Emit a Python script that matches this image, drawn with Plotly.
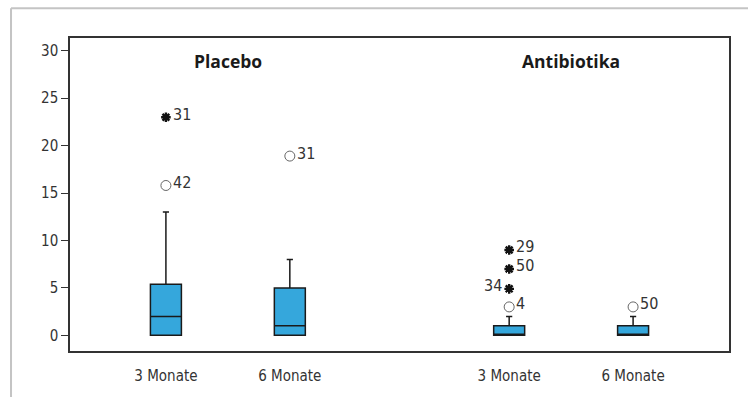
import plotly.graph_objects as go

# ---- data ----
groups = ["Placebo", "Antibiotika"]
categories = ["3 Monate", "6 Monate", "3 Monate", "6 Monate"]
box_group = [0, 0, 1, 1]
q1 = [0, 0, 0, 0]
median = [2, 1, 0, 0]
q3 = [5.4, 5, 1, 1]
lower_fence = [0, 0, 0, 0]
upper_fence = [13, 8, 2, 2]

out_box = [0, 0, 1, 2, 2, 2, 2, 3]
out_value = [23, 15.8, 18.9, 9, 7, 4.9, 3, 3]
out_kind = ["extreme", "mild", "mild", "extreme", "extreme", "extreme", "mild", "mild"]
out_label = ["31", "42", "31", "29", "50", "34", "4", "50"]
out_label_side = ["right", "right", "right", "right", "right", "left", "right", "right"]

y_ticks = [0, 5, 10, 15, 20, 25, 30]

# ---- layout positions ----
x_pos = [0, 1, 2.77, 3.77]
x_range = [-0.774, 4.544]
y_range = [-1.65, 31.35]

BOX_FILL = "#35A7DC"
TXT = "#333333"
NARROW = "DejaVu Sans Condensed, Liberation Sans Narrow, sans-serif"

fig = go.Figure()

fig.add_trace(go.Box(
    x=x_pos, q1=q1, median=median, q3=q3,
    lowerfence=lower_fence, upperfence=upper_fence,
    width=0.25, whiskerwidth=0.2,
    fillcolor=BOX_FILL, line=dict(color="#1a1a1a", width=1.5),
    boxpoints=False, showlegend=False, hoverinfo="skip",
))

mild_x = [x_pos[b] for b, k in zip(out_box, out_kind) if k == "mild"]
mild_y = [v for v, k in zip(out_value, out_kind) if k == "mild"]
ext_x = [x_pos[b] for b, k in zip(out_box, out_kind) if k == "extreme"]
ext_y = [v for v, k in zip(out_value, out_kind) if k == "extreme"]

fig.add_trace(go.Scatter(
    x=mild_x, y=mild_y, mode="markers",
    marker=dict(symbol="circle-open", size=10, color="#666666", line=dict(width=1)),
    showlegend=False, hoverinfo="skip",
))
fig.add_trace(go.Scatter(
    x=ext_x, y=ext_y, mode="markers",
    marker=dict(symbol="asterisk-open", size=8, color="#111111", line=dict(width=2.4, color="#111111")),
    showlegend=False, hoverinfo="skip",
))

for b, v, lab, side in zip(out_box, out_value, out_label, out_label_side):
    fig.add_annotation(
        x=x_pos[b], y=v, text=lab, showarrow=False,
        xanchor="left" if side == "right" else "right",
        xshift=5 if side == "right" else -5, yshift=3,
        font=dict(family=NARROW, size=16, color=TXT),
    )

for gi, g in enumerate(groups):
    xs = [x_pos[i] for i in range(len(x_pos)) if box_group[i] == gi]
    fig.add_annotation(
        x=sum(xs) / len(xs), y=1, yref="paper", yshift=-23, text="<b>" + g + "</b>",
        showarrow=False, xanchor="center", yanchor="middle",
        font=dict(family="Open Sans, sans-serif", size=17.5, color="#1a1a1a"),
    )

# outer light frame (top and left)
fig.add_shape(type="line", xref="paper", yref="paper", x0=-0.0895, x1=1.04, y0=1.095, y1=1.095,
              line=dict(color="#c4c4c4", width=2))
fig.add_shape(type="line", xref="paper", yref="paper", x0=-0.0895, x1=-0.0895, y0=1.095, y1=-0.2,
              line=dict(color="#c4c4c4", width=2))

fig.update_layout(
    width=748, height=397,
    margin=dict(l=70, r=19, t=38, b=43.5),
    paper_bgcolor="white", plot_bgcolor="white",
    xaxis=dict(range=x_range, tickmode="array", tickvals=x_pos, ticktext=categories,
               showgrid=False, zeroline=False, showline=True, mirror=True,
               linecolor="#333333", linewidth=1.5, ticks="", ticklabelstandoff=10,
               tickfont=dict(family=NARROW, size=15, color=TXT)),
    yaxis=dict(range=y_range, tickmode="array", tickvals=y_ticks,
               showgrid=False, zeroline=False, showline=True, mirror=True,
               linecolor="#333333", linewidth=1.5, ticks="outside", ticklen=7,
               tickcolor="#333333", tickwidth=1,
               tickfont=dict(family=NARROW, size=15, color=TXT)),
)

fig.write_html("out.html", config={"displayModeBar": False},
               post_script="document.body.style.margin='0';document.body.style.overflow='hidden';")
